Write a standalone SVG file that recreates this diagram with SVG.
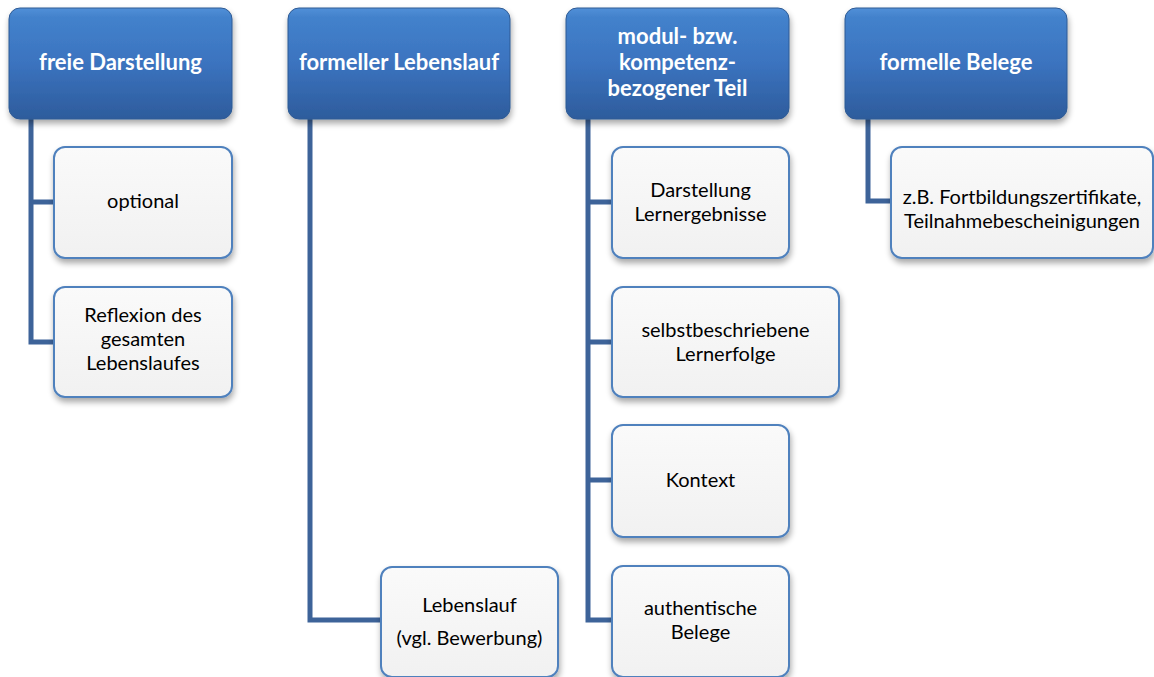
<svg xmlns="http://www.w3.org/2000/svg" width="1154" height="677" viewBox="0 0 1154 677">
<defs>
<linearGradient id="hg" x1="0" y1="0" x2="0" y2="1">
<stop offset="0" stop-color="#5290D8"/>
<stop offset="0.08" stop-color="#4382CC"/>
<stop offset="0.5" stop-color="#3B73BF"/>
<stop offset="1" stop-color="#2D5C9C"/>
</linearGradient>
<linearGradient id="cg" x1="0" y1="0" x2="0" y2="1">
<stop offset="0" stop-color="#FAFAFA"/>
<stop offset="1" stop-color="#F1F1F1"/>
</linearGradient>
<filter id="sh" x="-10%" y="-10%" width="130%" height="140%">
<feGaussianBlur in="SourceAlpha" stdDeviation="3"/>
<feOffset dx="1" dy="4"/>
<feComponentTransfer><feFuncA type="linear" slope="0.35"/></feComponentTransfer>
<feMerge><feMergeNode/><feMergeNode in="SourceGraphic"/></feMerge>
</filter>
</defs>
<style>
.h{fill:url(#hg);stroke:#2E5A94;stroke-width:1;filter:url(#sh)}
.c{fill:url(#cg);stroke:#4F81BD;stroke-width:2;filter:url(#sh)}
.ht{font-family:Lato,"Open Sans","Liberation Sans",sans-serif;font-weight:bold;font-size:22px;fill:#FFFFFF;text-anchor:middle}
.ct{font-family:Lato,"Open Sans","Liberation Sans",sans-serif;font-size:20px;fill:#000000;text-anchor:middle}
.ln{fill:none;stroke:#3D6399;stroke-width:5}
</style>
<g id="connectors">
<path class="ln" d="M31,119 V342 H54 M31,202 H54"/>
<path class="ln" d="M310,119 V620 H381"/>
<path class="ln" d="M588,119 V620 H612 M588,202 H612 M588,342 H612 M588,480 H612"/>
<path class="ln" d="M868,119 V201 H891"/>
</g>
<g id="h1"><rect class="h" x="9" y="8" width="223" height="111" rx="11"/><text class="ht" x="120.5" y="70">freie Darstellung</text></g>
<g id="h2"><rect class="h" x="288" y="8" width="222" height="111" rx="11"/><text class="ht" x="399" y="70">formeller Lebenslauf</text></g>
<g id="h3"><rect class="h" x="566" y="8" width="223" height="111" rx="11"/><text class="ht" x="677.5" y="44">modul- bzw.</text><text class="ht" x="677.5" y="70">kompetenz-</text><text class="ht" x="677.5" y="96">bezogener Teil</text></g>
<g id="h4"><rect class="h" x="845" y="8" width="222" height="111" rx="11"/><text class="ht" x="956" y="70">formelle Belege</text></g>
<g id="c1"><rect class="c" x="54" y="147" width="178" height="111" rx="11"/><text class="ct" x="143" y="208">optional</text></g>
<g id="c2"><rect class="c" x="54" y="287" width="178" height="110" rx="11"/><text class="ct" x="143" y="322">Reflexion des</text><text class="ct" x="143" y="346">gesamten</text><text class="ct" x="143" y="370">Lebenslaufes</text></g>
<g id="c3"><rect class="c" x="381" y="567" width="177" height="110" rx="11"/><text class="ct" x="469.5" y="612">Lebenslauf</text><text class="ct" x="469.5" y="645">(vgl. Bewerbung)</text></g>
<g id="c4"><rect class="c" x="612" y="147" width="177" height="111" rx="11"/><text class="ct" x="700.5" y="197">Darstellung</text><text class="ct" x="700.5" y="221">Lernergebnisse</text></g>
<g id="c5"><rect class="c" x="612" y="287" width="227" height="110" rx="11"/><text class="ct" x="725.5" y="337">selbstbeschriebene</text><text class="ct" x="725.5" y="361">Lernerfolge</text></g>
<g id="c6"><rect class="c" x="612" y="425" width="177" height="112" rx="11"/><text class="ct" x="700.5" y="487">Kontext</text></g>
<g id="c7"><rect class="c" x="612" y="566" width="177" height="111" rx="11"/><text class="ct" x="700.5" y="615">authentische</text><text class="ct" x="700.5" y="639">Belege</text></g>
<g id="c8"><rect class="c" x="891" y="147" width="262" height="111" rx="11"/><text class="ct" x="1022" y="204">z.B. Fortbildungszertifikate,</text><text class="ct" x="1022" y="228">Teilnahmebescheinigungen</text></g>
</svg>
